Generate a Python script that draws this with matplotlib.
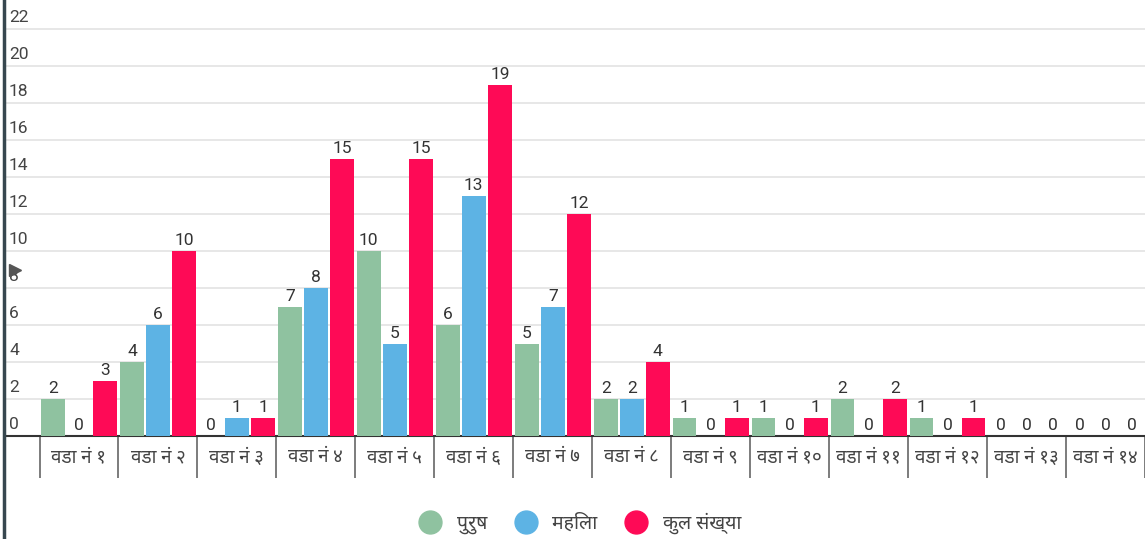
import matplotlib.pyplot as plt
import numpy as np
from matplotlib.lines import Line2D
from matplotlib.transforms import blended_transform_factory, offset_copy

plt.rcParams['font.family'] = ['Roboto', 'Noto Sans Devanagari', 'Noto Sans', 'DejaVu Sans']

# data
wards = ["वडा नं १", "वडा नं २", "वडा नं ३", "वडा नं ४", "वडा नं ५", "वडा नं ६", "वडा नं ७",
         "वडा नं ८", "वडा नं ९", "वडा नं १०", "वडा नं ११", "वडा नं १२", "वडा नं १३", "वडा नं १४"]
purush = [2, 4, 0, 7, 10, 6, 5, 2, 1, 1, 2, 1, 0, 0]
mahila = [0, 6, 1, 8, 5, 13, 7, 2, 0, 0, 0, 0, 0, 0]
kul = [3, 10, 1, 15, 15, 19, 12, 4, 1, 1, 2, 1, 0, 0]
series_names = ["पुरुष", "महिला", "कुल संख्या"]
colors = ["#8fc2a0", "#5db3e4", "#fe0a56"]

W, H = 1145, 539
fig = plt.figure(figsize=(W / 100, H / 100), dpi=100)
ax = fig.add_axes([5 / W, 103 / H, 1140 / W, 436 / H])

x = np.arange(len(wards))
bw = 0.30
off = 0.33
for k, vals in enumerate([purush, mahila, kul]):
    bars = ax.bar(x + (k - 1) * off, vals, width=bw, color=colors[k], zorder=3)
    for b, v in zip(bars, vals):
        ax.annotate(str(v), (b.get_x() + b.get_width() / 2, v), xytext=(0, 2),
                    textcoords='offset points', ha='center', va='bottom',
                    fontsize=12.5, color='#333333', zorder=4)

ax.set_xlim(-0.937, 13.494)
ax.set_ylim(0, 23.57)

for s in ['top', 'right', 'left']:
    ax.spines[s].set_visible(False)
ax.spines['bottom'].set_color('#333333')
ax.spines['bottom'].set_linewidth(1.5)

# grid + y labels inside the plot
yt = np.arange(0, 23, 2)
for v in yt:
    if v > 0:
        ax.axhline(v, color='#e3e3e3', lw=1.2, zorder=1)
tr = offset_copy(blended_transform_factory(ax.transAxes, ax.transData), fig=fig, x=0, y=3, units='points')
for v in yt:
    ax.text(4 / 1140, v, str(v), transform=tr, ha='left', va='bottom', fontsize=12.5, color='#444444')
ax.set_yticks([])

ax.set_xticks(x)
ax.set_xticklabels(wards, fontsize=13.5, color='#444444')
ax.tick_params(axis='x', which='major', length=0, pad=9)
ax.set_xticks(np.arange(-0.5, 14, 1), minor=True)
ax.tick_params(axis='x', which='minor', length=30, width=1.2, color='#666666')

# dark strip and pointer on the left edge of the screenshot
fig.add_artist(Line2D([4 / W, 4 / W], [0, 1], transform=fig.transFigure, color='#37474f', lw=2.5))
fig.add_artist(Line2D([15 / W], [1 - 270 / H], transform=fig.transFigure, marker='>', ms=9,
                      color='#555555', ls=''))

handles = [Line2D([], [], marker='o', ls='', markersize=16.5, color=c) for c in colors]
fig.legend(handles, series_names, loc='center', bbox_to_anchor=(576 / W, 16 / H), ncol=3,
           frameon=False, fontsize=14, handletextpad=0.35, columnspacing=1.0, labelcolor='#444444')

fig.savefig('out.png', dpi=100)
